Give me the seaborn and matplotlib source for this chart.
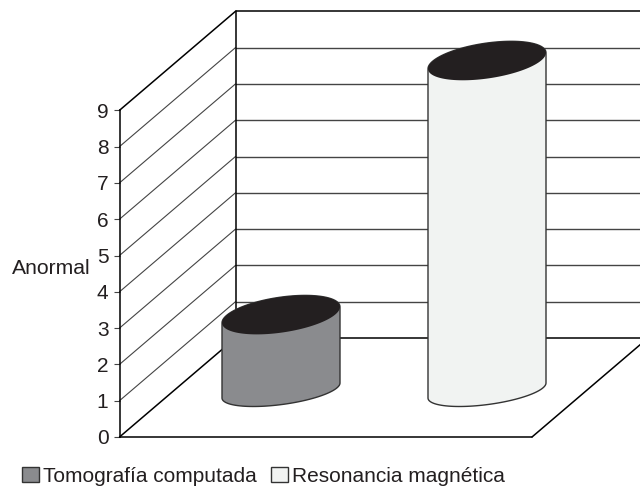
import numpy as np
import matplotlib
matplotlib.use("Agg")
import matplotlib.pyplot as plt
from matplotlib.patches import Patch, Polygon
import seaborn as sns

# data
categories = ["Tomografía computada", "Resonancia magnética"]
values = [2, 9]
yticks = list(range(10))
ylabel = "Anormal"
colors = ["#8a8b8e", "#f1f3f2"]
cap_color = "#231f20"
ink = "#231f20"

sns.set_style("white")
plt.rcParams["font.family"] = ["Liberation Sans", "DejaVu Sans"]

W, H = 640, 487
px_x = 206.0      # pixels per category
px_y = 36.3       # pixels per axis unit
x0_px, y0_px = 281.0, 437.0   # where category 0 / value 0 fall

# oblique "3d" box, in axis units
x_left = (119.5 - x0_px) / px_x
x_right = (532 - x0_px) / px_x
depth_x = 116 / px_x
depth_y = 99 / px_y
rise = depth_y / 2   # cylinders stand half way back on the floor

fig = plt.figure(figsize=(W / 100, H / 100), dpi=100)
ax = fig.add_axes([0, 0, 1, 1])
ax.patch.set_alpha(0)

sns.barplot(x=categories, y=values, hue=categories, palette=colors, width=118 / px_x,
            bottom=rise, saturation=1, legend=False, linewidth=0, ax=ax)

ax.set_xlim(-x0_px / px_x, (W - x0_px) / px_x)
ax.set_ylim((y0_px - H) / px_y, y0_px / px_y)

# walls and floor
back_x = x_left + depth_x
far_x = ax.get_xlim()[1] + 0.1
for v in yticks[1:-1]:
    ax.plot([x_left, back_x], [v, v + depth_y], color="#444444", lw=0.8, zorder=1)
    ax.plot([back_x, far_x], [v + depth_y, v + depth_y], color="#444444", lw=1, zorder=1)
ax.plot([x_left, back_x], [0, depth_y], color="black", lw=1.1, zorder=1)
ax.plot([x_left, back_x], [9, 9 + depth_y], color="black", lw=1.1, zorder=1)
ax.plot([back_x, far_x], [depth_y, depth_y], color="black", lw=1.1, zorder=1)
ax.plot([back_x, far_x], [9 + depth_y, 9 + depth_y], color="black", lw=1.1, zorder=1)
ax.plot([back_x, back_x], [depth_y, 9 + depth_y], color="black", lw=1.1, zorder=1)
ax.plot([x_left, x_right], [0, 0], color="black", lw=1.1, zorder=1)
ax.plot([x_right, x_right + depth_x], [0, depth_y], color="black", lw=1.1, zorder=1)


def ring(cx, cy, half_w, tilt_px, half_h_px, t):
    # tilted ellipse, sheared circle so the ends join the vertical sides
    xs = cx + half_w * np.cos(t)
    b = np.sqrt(half_h_px ** 2 - tilt_px ** 2)
    ys = cy + (tilt_px * np.cos(t) + b * np.sin(t)) / px_y
    return xs, ys


# cylinders built on the bars seaborn drew
for cont, col in zip(ax.containers, colors):
    bar = cont[0]
    cx = bar.get_x() + bar.get_width() / 2
    half = bar.get_width() / 2
    base = bar.get_y() - 3 / px_y
    top = bar.get_y() + bar.get_height()

    tx, ty = ring(cx, top, half, 8, 19.5, np.linspace(0, 2 * np.pi, 120))
    bx, by = ring(cx, base, half, 7.5, 16, np.linspace(np.pi, 2 * np.pi, 60))
    ux, uy = ring(cx, top, half, 8, 19.5, np.linspace(0, np.pi, 60))
    outline = np.column_stack([np.r_[bx, ux], np.r_[by, uy]])

    ax.add_patch(Polygon(outline, closed=True, facecolor=col, lw=0, zorder=2))
    bar.set_zorder(2.1)
    bar.set_clip_path(Polygon(outline, closed=True, transform=ax.transData))
    ax.add_patch(Polygon(outline, closed=True, fill=False, edgecolor="#333333", lw=1, zorder=2.2))
    ax.fill(tx, ty, color=cap_color, lw=0, zorder=3)

# value axis on the front left edge
for side in ["top", "right", "bottom"]:
    ax.spines[side].set_visible(False)
ax.spines["left"].set_position(("data", x_left))
ax.spines["left"].set_bounds(0, 9)
ax.spines["left"].set_color("black")
ax.spines["left"].set_linewidth(1.1)
ax.set_xticks([])
ax.set_yticks(yticks)
ax.tick_params(axis="y", left=True, length=4.5, width=0.8, color="#444444",
               labelsize=15, labelcolor=ink, pad=3.5)
ax.set_xlabel("")
ax.set_ylabel(ylabel, rotation=0, ha="right", va="center", fontsize=15.2, color=ink)
ax.yaxis.set_label_coords(91 / W, 1 - 269 / H)

handles = [Patch(facecolor=c, edgecolor="#333333", lw=1, label=n) for c, n in zip(colors, categories)]
ax.legend(handles=handles, ncols=2, loc="lower left", bbox_to_anchor=(22 / W, 1 / H), frameon=False,
          fontsize=15, labelcolor=ink, handlelength=0.82, handleheight=0.75, handletextpad=0.2,
          columnspacing=0.65, borderpad=0, borderaxespad=0)

fig.savefig("out.png", dpi=100)
